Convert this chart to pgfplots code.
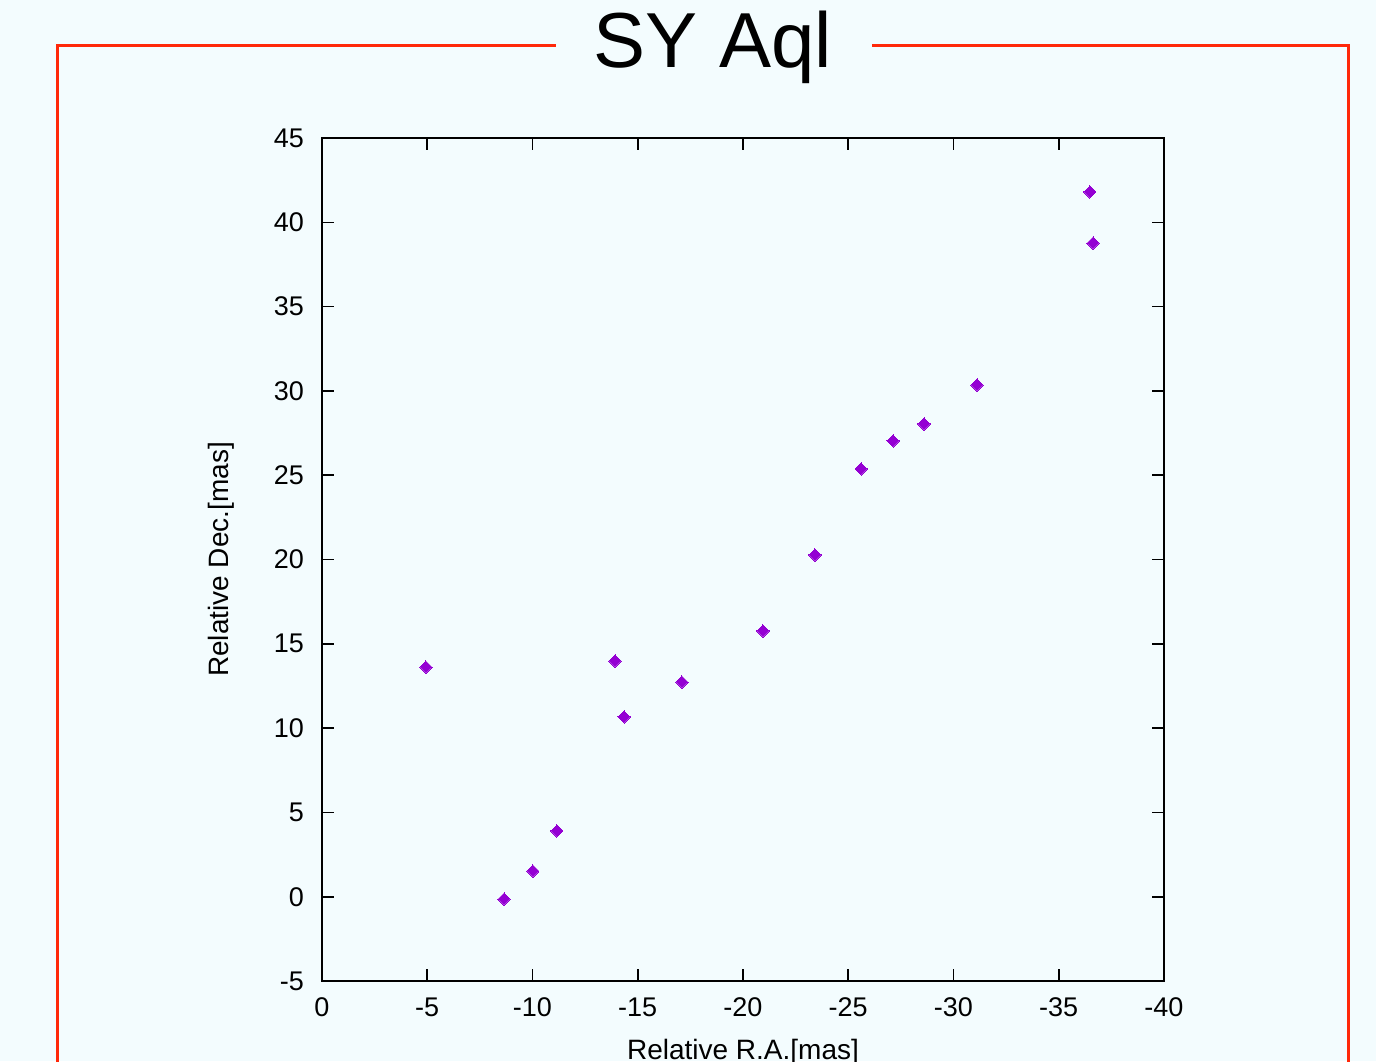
\documentclass[border=0pt]{standalone}
\usepackage{fontspec}
\setmainfont{Liberation Sans}
\usepackage{pgfplots}
\pgfplotsset{compat=1.18}
\definecolor{bg}{RGB}{243,252,254}
\definecolor{framecol}{RGB}{255,40,10}
\definecolor{pts}{RGB}{148,0,211}
\begin{document}
\begin{tikzpicture}[x=1pt,y=1pt]
\path[use as bounding box, clip] (0,0) rectangle (688,530.5);
\fill[bg] (0,0) rectangle (688,530.5);
\draw[framecol, line width=1.5pt] (28.5,-5) -- (28.5,507.5) -- (278,507.5);
\draw[framecol, line width=1.5pt] (436,507.5) -- (674,507.5) -- (674,-5);
\node[anchor=base, inner sep=0pt, font=\fontsize{39}{39}\selectfont] at (356.5,496.5) {SY Aql};
\begin{axis}[
  at={(161pt,40pt)}, anchor=south west,
  scale only axis, width=421pt, height=421.5pt,
  xmin=-40, xmax=0, ymin=-5, ymax=45,
  x dir=reverse,
  xtick distance=5, ytick distance=5,
  tick align=inside, major tick length=6pt,
  tick style={black, line width=0.8pt},
  axis line style={black, line width=1pt},
  minor tick num=0,
  /pgf/number format/assume math mode=true,
  ticklabel style={font=\fontsize{13.5}{15}\selectfont},
  label style={font=\fontsize{14}{16}\selectfont},
  xlabel={Relative R.A.[mas]},
  ylabel={Relative Dec.[mas]},
  xticklabel style={yshift=-5pt},
  yticklabel style={xshift=-5.5pt},
  xlabel style={yshift=-4pt},
  ylabel style={yshift=13pt},
]
\addplot[only marks, mark=square*, mark size=2.15pt, mark options={rotate=45, fill=pts, draw=pts, line width=0pt}] coordinates {
(-4.94,13.62)
(-8.65,-0.14)
(-10.02,1.52)
(-11.16,3.90)
(-13.92,13.98)
(-14.35,10.66)
(-17.10,12.73)
(-20.95,15.76)
(-23.42,20.27)
(-25.61,25.37)
(-27.13,27.03)
(-28.60,28.04)
(-31.12,30.35)
(-36.48,41.80)
(-36.63,38.77)
};
\end{axis}
\end{tikzpicture}
\end{document}
